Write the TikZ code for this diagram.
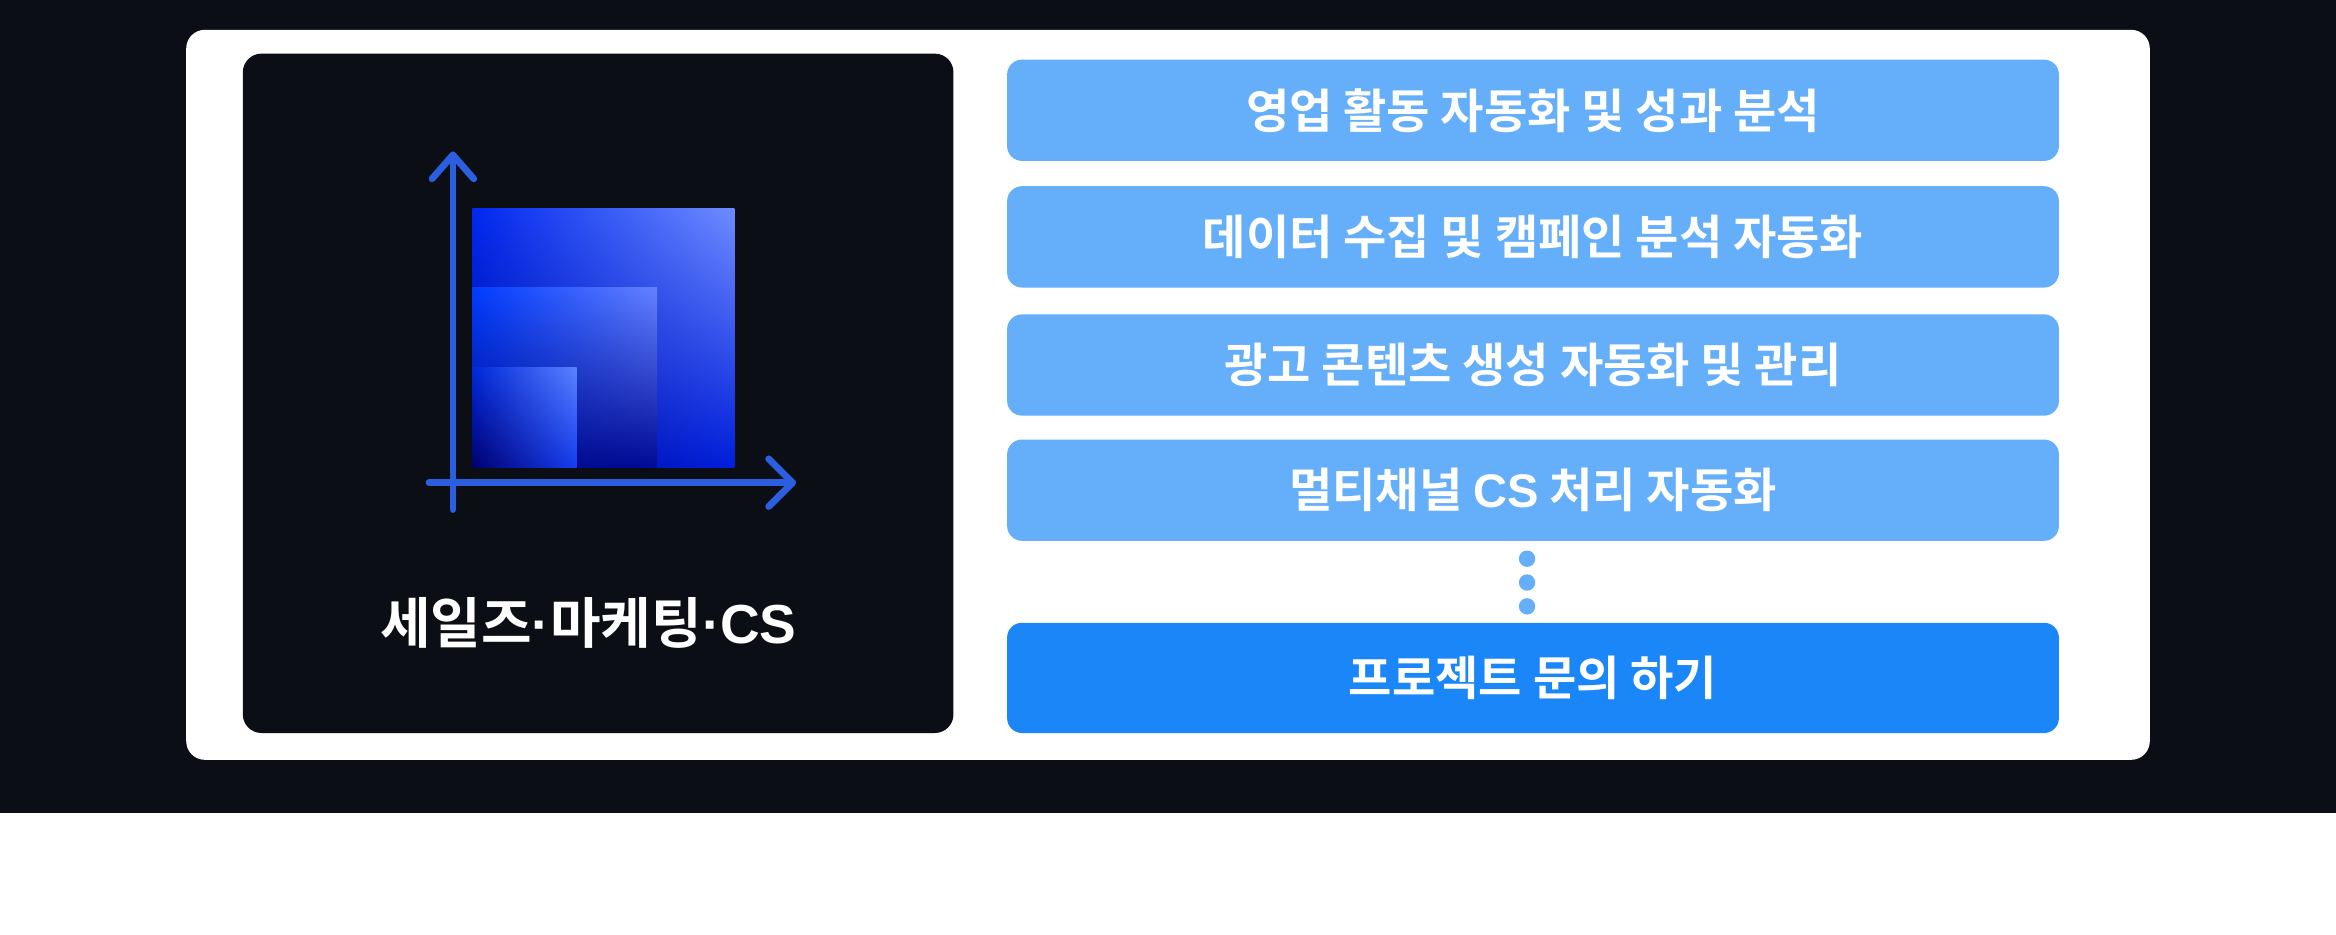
\documentclass[tikz,border=0pt]{standalone}
\usepackage{fontspec}
\usetikzlibrary{shadings}
\newfontfamily\kr{Noto Sans CJK KR Bold}
\newfontfamily\latb{Liberation Sans Bold}
\definecolor{bgdark}{HTML}{0B0E14}
\definecolor{barblue}{HTML}{64AEFA}
\definecolor{ctablue}{HTML}{1A86F7}
\definecolor{axisblue}{HTML}{2B5FE0}
\definecolor{aUR}{RGB}{110,140,255}
\definecolor{aLR}{RGB}{0,30,220}
\definecolor{aUL}{RGB}{0,40,240}
\definecolor{aLL}{RGB}{0,10,140}
\definecolor{bUR}{RGB}{100,130,255}
\definecolor{bLR}{RGB}{0,10,150}
\definecolor{bUL}{RGB}{0,60,255}
\definecolor{bLL}{RGB}{0,10,130}
\definecolor{cUR}{RGB}{90,130,255}
\definecolor{cLR}{RGB}{20,60,240}
\definecolor{cUL}{RGB}{0,40,220}
\definecolor{cLL}{RGB}{0,0,110}
\newcommand{\mdot}{{\latb\char"00B7}}
\begin{document}
\begin{tikzpicture}[x=0.02cm,y=-0.02cm,
  bar/.style={fill=barblue,rounded corners=0.2cm,draw=none},
  bartext/.style={text=white,font=\kr\fontsize{18}{20}\selectfont},
  axis/.style={draw=axisblue,line width=2.6pt,line cap=round,line join=round}]
\useasboundingbox (0,0) rectangle (1568,627);
\fill[white] (0,0) rectangle (1568,627);
\fill[bgdark] (0,0) rectangle (1568,546);
\fill[white,rounded corners=0.25cm] (125,20) rectangle (1443,510);
\fill[bgdark,rounded corners=0.25cm] (163,36) rectangle (640,492);
% squares
\shade[upper right=aUR,lower right=aLR,upper left=aUL,lower left=aLL] (317,140) rectangle (493,314);
\shade[upper right=bUR,lower right=bLR,upper left=bUL,lower left=bLL] (317,193) rectangle (441,314);
\shade[upper right=cUR,lower right=cLR,upper left=cUL,lower left=cLL] (317,247) rectangle (387,314);
% axes
\coordinate (ytop) at (304,104);
\coordinate (ybot) at (304,342);
\coordinate (xl) at (288,324);
\coordinate (xr) at (532,324);
\draw[axis] (ybot) -- (ytop);
\draw[axis] (290,120) -- (ytop) -- (318,120);
\draw[axis] (xl) -- (xr);
\draw[axis] (516,308) -- (xr) -- (516,340);
\node[text=white,font=\kr\fontsize{21}{24}\selectfont] (title) at (395,418) {세일즈\mdot 마케팅\mdot{\latb CS}};
% bars
\fill[bar] (676,40) rectangle (1382,108);
\node[bartext] (b1) at (1029,74) {영업 활동 자동화 및 성과 분석};
\fill[bar] (676,125) rectangle (1382,193);
\node[bartext] (b2) at (1029,159) {데이터 수집 및 캠페인 분석 자동화};
\fill[bar] (676,211) rectangle (1382,279);
\node[bartext] (b3) at (1029,245) {광고 콘텐츠 생성 자동화 및 관리};
\fill[bar] (676,295) rectangle (1382,363);
\node[bartext] (b4) at (1029,329) {멀티채널 {\latb CS} 처리 자동화};
\foreach \y in {375,391,407} \fill[barblue] (1025,\y) circle (5.5);
\fill[ctablue,rounded corners=0.2cm] (676,418) rectangle (1382,492);
\node[bartext] (b5) at (1029,455) {프로젝트 문의 하기};
\end{tikzpicture}
\end{document}
